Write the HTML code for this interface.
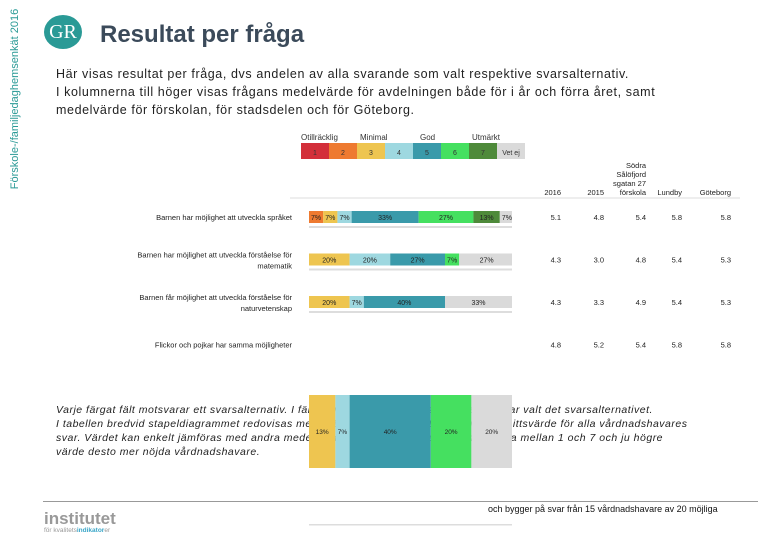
<!DOCTYPE html>
<html><head><meta charset="utf-8"><style>
body{margin:0;width:780px;height:540px;background:#fff;overflow:hidden;font-family:"Liberation Sans",sans-serif;position:relative}
.a{position:absolute}
</style></head><body>
<div class="a" style="left:-84px;top:92px;width:200px;height:14px;transform:rotate(-90deg);font-size:11px;color:#2a9a96;white-space:nowrap;text-align:center">Förskole-/familjedaghemsenkät 2016</div>
<div class="a" style="left:44px;top:15px;width:38px;height:34px;border-radius:50%;background:#2a9a96;color:#fff;font-family:'Liberation Serif',serif;font-size:20px;line-height:34px;text-align:center">GR</div>
<div class="a" style="left:100px;top:21px;font-size:24px;font-weight:bold;color:#3b4a5a">Resultat per fråga</div>
<div class="a" style="left:56px;top:65px;font-size:12.5px;line-height:18px;color:#222;letter-spacing:0.6px">Här visas resultat per fråga, dvs andelen av alla svarande som valt respektive svarsalternativ.<br>I kolumnerna till höger visas frågans medelvärde för avdelningen både för i år och förra året, samt<br>medelvärde för förskolan, för stadsdelen och för Göteborg.</div>
<div class="a" style="left:56px;top:403px;font-size:10.5px;line-height:14px;color:#222;font-style:italic;letter-spacing:0.5px">Varje färgat fält motsvarar ett svarsalternativ. I fält anges andelen av de svarande som har valt det svarsalternativet.<br>I tabellen bredvid stapeldiagrammet redovisas medelvärden. Medelvärdet är ett genomsnittsvärde för alla vårdnadshavares<br>svar. Värdet kan enkelt jämföras med andra medelvärden och kan i denna beräkning ligga mellan 1 och 7 och ju högre<br>värde desto mer nöjda vårdnadshavare.</div>
<div class="a" style="left:43px;top:501px;width:715px;height:1px;background:#999"></div>
<div class="a" style="left:44px;top:510px;font-size:17px;font-weight:bold;color:#999;line-height:17px">institutet<div style="font-size:6.5px;font-weight:normal;line-height:8px">för kvalitets<span style="color:#3aa6c8;font-weight:bold">indikator</span>er</div></div>
<div class="a" style="left:488px;top:504px;font-size:9px;color:#111;white-space:nowrap">och bygger på svar från 15 vårdnadshavare av 20 möjliga</div>
<svg class="a" style="left:0;top:0" width="780" height="540" id="chart"></svg>
<script>
const colors=["#d32f3a","#ee7a30","#eec550","#9ed8e0","#3a9aaa","#45e060","#4e8a3a","#dadada"];
const legendLabels=["1","2","3","4","5","6","7","Vet ej"];
const questions=[["Barnen har möjlighet att utveckla språket"],["Barnen har möjlighet att utveckla förståelse för","matematik"],["Barnen får möjlighet att utveckla förståelse för","naturvetenskap"],["Flickor och pojkar har samma möjligheter"]];
const shareCats=[[1,2,3,4,5,6,7],[2,3,4,5,7],[2,3,4,7],[]];
const shareVals=[[7,7,7,33,27,13,7],[20,20,27,7,27],[20,7,40,33],[]];
const bigCats=[2,3,4,5,7];
const bigVals=[13,7,40,20,20];
const colHeads=[["2016"],["2015"],["Södra","Sålöfjord","sgatan 27","förskola"],["Lundby"],["Göteborg"]];
const means=[["5.1","4.8","5.4","5.8","5.8"],["4.3","3.0","4.8","5.4","5.3"],["4.3","3.3","4.9","5.4","5.3"],["4.8","5.2","5.4","5.8","5.8"]];
const svg=document.getElementById('chart');const NS="http://www.w3.org/2000/svg";
function mk(t,a,txt){const e=document.createElementNS(NS,t);for(const k in a)e.setAttribute(k,a[k]);if(txt!==undefined)e.textContent=txt;svg.appendChild(e);return e;}
const x0=309,W=203;const xs=v=>v/100*W;
const rowY=i=>211+i*42.5;
const colX=[561,604,646,682,731];
legendLabels.forEach((l,i)=>{let r=mk('rect',{x:301+i*28,y:143,width:28,height:16,fill:colors[i]});

let t=mk('text',{x:315+i*28,y:155,'font-size':7,'text-anchor':'middle',fill:'#333'},l);
});
[["Otillräcklig",301],["Minimal",360],["God",420],["Utmärkt",472]].forEach(([s,x])=>{let t=mk('text',{x:x,y:140,'font-size':8,fill:'#333'},s);
});
colHeads.forEach((h,j)=>h.forEach((s,k)=>{let t=mk('text',{x:colX[j],y:195-(h.length-1-k)*9,'font-size':7.5,'text-anchor':'end',fill:'#222'},s);
}));
let hl=mk('line',{x1:290,y1:198,x2:740,y2:198,stroke:'#ddd'});
questions.forEach((q,i)=>{const y=rowY(i);
q.forEach((s,k)=>{let t=mk('text',{x:292,y:y+9+k*11-(q.length>1?5:0),'font-size':7.5,'text-anchor':'end',fill:'#222'},s);
});
let acc=0;shareVals[i].forEach((v,k)=>{const c=shareCats[i][k];const x=x0+xs(acc);
const w=Math.max(0,Math.min(v,100-acc));
let r=mk('rect',{x:x,y:y,width:xs(w),height:12,fill:colors[c]});

let t=mk('text',{x:x+xs(v)/2,y:y+9,'font-size':7,'text-anchor':'middle',fill:'#222'},v+'%');
acc+=v;});
if(shareVals[i].length){let u=mk('rect',{x:x0,y:y+15,width:W,height:2,fill:'#ddd'});}
means[i].forEach((m,j)=>{let t=mk('text',{x:colX[j],y:y+9,'font-size':7.5,'text-anchor':'end',fill:'#222'},m);
});});
let acc=0;bigVals.forEach((v,k)=>{const x=x0+xs(acc);
let r=mk('rect',{x:x,y:395,width:xs(v),height:73,fill:colors[bigCats[k]]});

let t=mk('text',{x:x+xs(v)/2,y:434,'font-size':6.5,'text-anchor':'middle',fill:'#222'},v+'%');
acc+=v;});
let g=mk('rect',{x:x0,y:524,width:W,height:1.5,fill:'#ddd'});
</script>
</body></html>
